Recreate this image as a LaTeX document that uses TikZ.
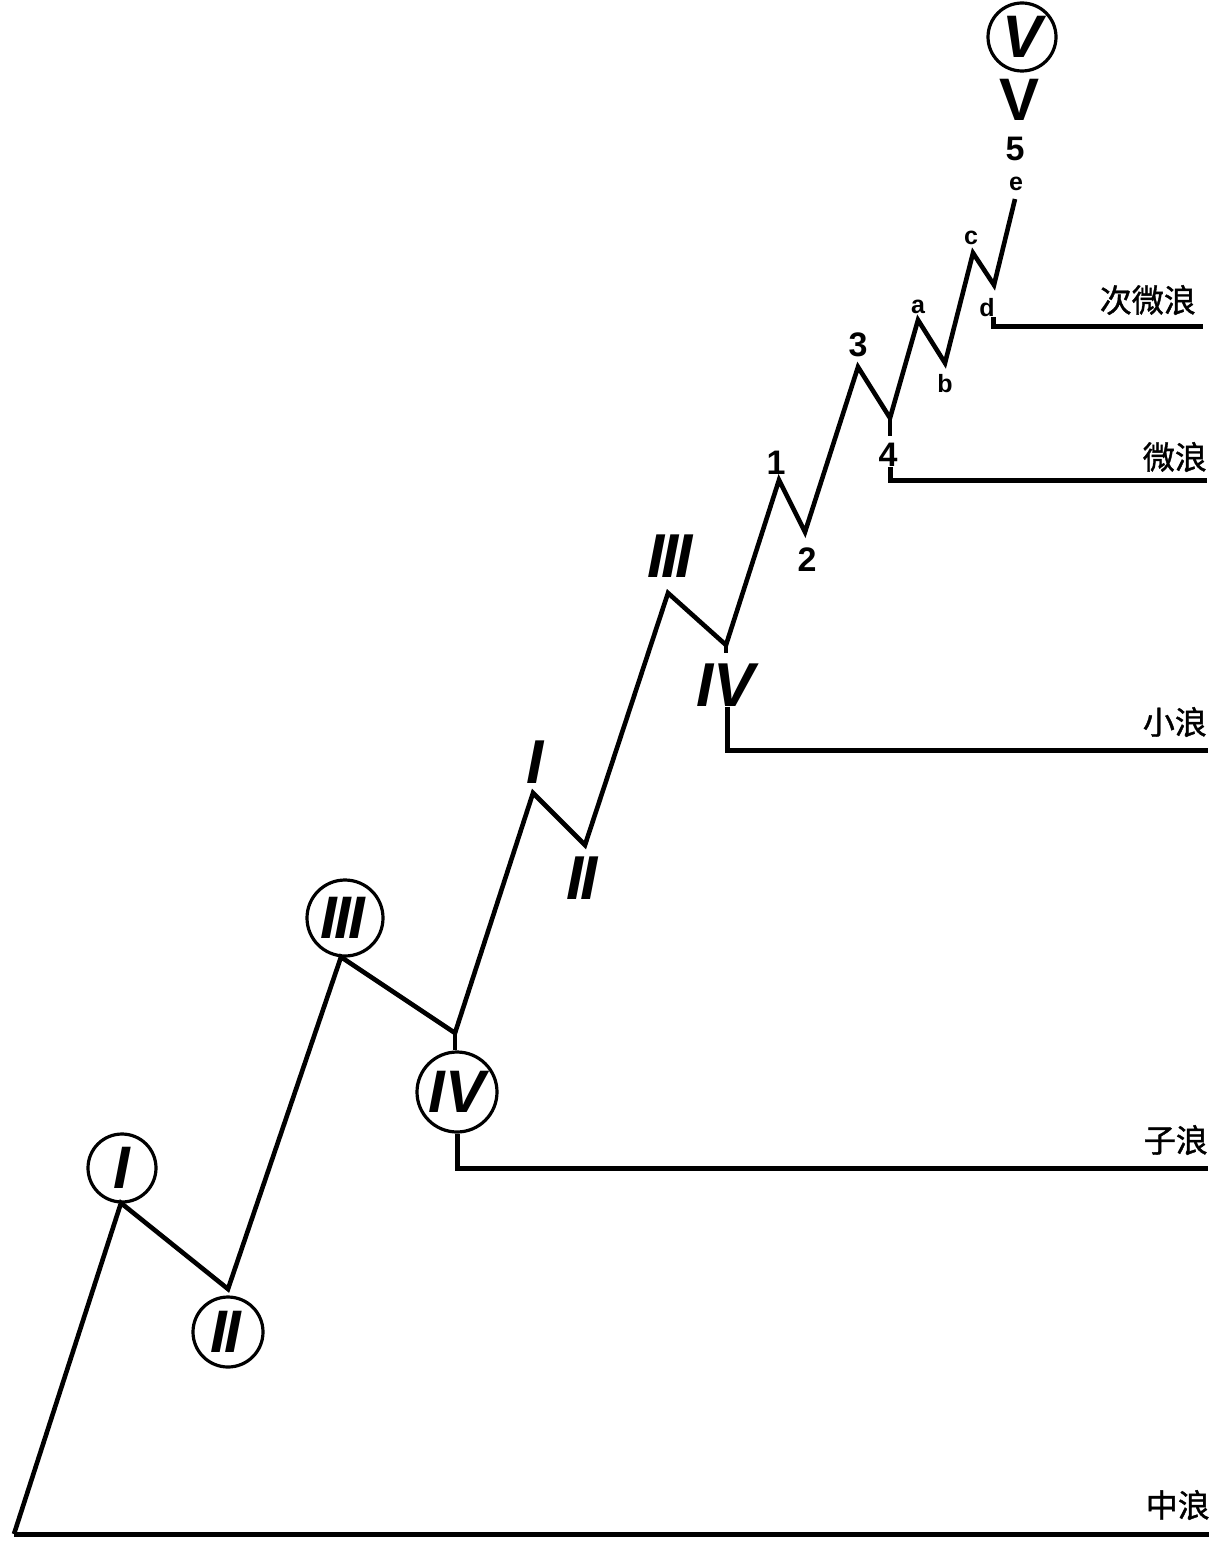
\documentclass[tikz,border=0pt]{standalone}
\usepackage{graphicx}
\usepackage{fontspec}
\setmainfont{Liberation Sans}
\newfontfamily\cjk[FakeBold=1.2]{Noto Sans CJK SC}
\begin{document}
\begin{tikzpicture}[x=1pt,y=-1pt,
  wave/.style={line width=4.6pt, line join=miter, line cap=butt},
  baseln/.style={line width=5pt},
  circ/.style={circle, draw, line width=3.2pt, inner sep=0pt, font=\bfseries\itshape\fontsize{60}{60}\selectfont},
  rom/.style={inner sep=0pt, font=\bfseries\itshape\fontsize{62}{62}\selectfont},
  num/.style={inner sep=0pt, font=\bfseries\fontsize{34}{34}\selectfont},
  lett/.style={inner sep=0pt, font=\bfseries\fontsize{25}{25}\selectfont},
  cn/.style={inner sep=0pt, anchor=east, font=\cjk\fontsize{32}{32}\selectfont}]
\fill[white] (0,0) rectangle (1211,1541);
\useasboundingbox (0,0) rectangle (1211,1541);

% wave points
\coordinate (O) at (14,1534);
\coordinate (P1) at (121,1203);
\coordinate (P2) at (228,1289);
\coordinate (P3) at (341,957);
\coordinate (P4) at (455,1033);
\coordinate (Q1) at (533,793);
\coordinate (Q2) at (585,845);
\coordinate (Q3) at (668,593);
\coordinate (Q4) at (726,645);
\coordinate (R1) at (779,480);
\coordinate (R2) at (805,532);
\coordinate (R3) at (858,367);
\coordinate (R4) at (890,418);
\coordinate (S1) at (918,320);
\coordinate (S2) at (945,363);
\coordinate (S3) at (973,253);
\coordinate (S4) at (994,285);
\coordinate (S5) at (1015,199);

% circled labels
\node[circ, minimum size=68pt] (cI) at (122,1168) {I};
\node[circ, minimum size=70pt] (cII) at (228,1332) {\kern-4pt I\kern-3pt I};
\node[circ, minimum size=76pt] (cIII) at (345,918) {\kern-4pt I\kern-3pt I\kern-3pt I};
\node[circ, minimum size=80pt] (cIV) at (457,1092) {IV};
\node[circ, minimum size=68pt] (cV) at (1022,37) {V};

% minor labels
\node[rom] (lI) at (535,762) {I};
\node[rom] (lII) at (582,878) {I\kern-3pt I};
\node[rom] (lIII) at (670,556) {I\kern-3pt I\kern-3pt I};
\node[rom] (lIV) at (726,685) {IV};
\node[rom, font=\bfseries\fontsize{60}{60}\selectfont] (lV) at (1019,100) {V};

% digits
\node[num] (d1) at (776,463) {1};
\node[num] (d2) at (807,560) {2};
\node[num] (d3) at (858,345) {3};
\node[num] (d4) at (888,455) {4};
\node[num] (d5) at (1015,149) {5};

% letters
\node[lett] (la) at (918,307) {a};
\node[lett] (lb) at (945,384) {b};
\node[lett] (lc) at (971,238) {c};
\node[lett] (ld) at (987,308) {d};
\node[lett] (le) at (1016,184) {e};

% Chinese level names
\node[cn] (t5) at (1196,300) {次微浪};
\node[cn] (t4) at (1207,457) {微浪};
\node[cn] (t3) at (1207,722) {小浪};
\node[cn] (t2) at (1208,1140) {子浪};
\node[cn] (t1) at (1210,1505) {中浪};

% baseline corners
\coordinate (Oe) at (1209,1534);
\coordinate (F1) at (457,1168);
\coordinate (F1e) at (1208,1168);
\coordinate (Q4b) at (726,653);
\coordinate (G1) at (727,750);
\coordinate (G1e) at (1208,750);
\coordinate (R4b) at (890,436);
\coordinate (H1) at (890,480);
\coordinate (H1e) at (1207,480);
\coordinate (J1) at (993,326);
\coordinate (J1e) at (1203,326);

% wave
\draw[wave] (O) -- (P1) -- (P2) -- (P3) -- (P4) -- (Q1) -- (Q2) -- (Q3) -- (Q4)
  -- (R1) -- (R2) -- (R3) -- (R4) -- (S1) -- (S2) -- (S3) -- (S4) -- (S5);

% drops to level lines
\draw[wave] (P4) -- (P4 |- cIV.north);
\draw[wave] (Q4) -- (Q4b);
\draw[wave] (R4) -- (R4b);

\draw[baseln] (O) -- (Oe);
\draw[baseln] (cIV.south) -- (F1) -- (F1e);
\draw[baseln] (lIV.south -| G1) -- (G1) -- (G1e);
\draw[baseln] (d4.south -| H1) -- (H1) -- (H1e);
\draw[baseln] (ld.south -| J1) -- (J1) -- (J1e);
\end{tikzpicture}
\end{document}
